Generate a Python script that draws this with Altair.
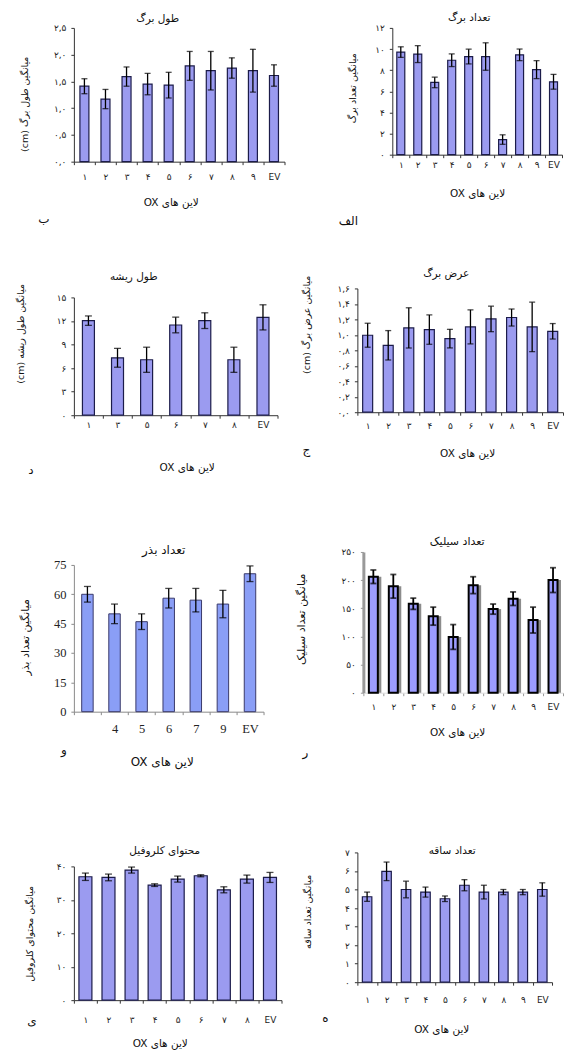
import altair as alt
import pandas as pd

FA = "DejaVu Sans"
SERIF = "Liberation Serif"
XTITLE = "OX لاین های"

# ---------------- data ----------------
p1_cats = ["۱", "۲", "۳", "۴", "۵", "۶", "۷", "۸", "۹", "EV"]
p1_vals = [1.41, 1.17, 1.59, 1.45, 1.43, 1.79, 1.70, 1.75, 1.70, 1.61]
p1_errs = [0.14, 0.18, 0.18, 0.20, 0.24, 0.27, 0.36, 0.19, 0.40, 0.20]
p1_yticks = [0, 0.5, 1, 1.5, 2, 2.5]
p1_ylabels = ["۰,۰", "۰,۵", "۱,۰", "۱,۵", "۲,۰", "۲,۵"]

p2_cats = ["۱", "۲", "۳", "۴", "۵", "۶", "۷", "۸", "۹", "EV"]
p2_vals = [9.71, 9.52, 6.84, 8.94, 9.29, 9.29, 1.43, 9.45, 8.05, 6.90]
p2_errs = [0.50, 0.80, 0.50, 0.60, 0.70, 1.30, 0.45, 0.55, 0.85, 0.70]
p2_yticks = [0, 2, 4, 6, 8, 10, 12]
p2_ylabels = ["۰", "۲", "۴", "۶", "۸", "۱۰", "۱۲"]

p3_cats = ["۱", "۳", "۵", "۶", "۷", "۸", "EV"]
p3_vals = [12.04, 7.31, 7.06, 11.49, 12.04, 7.06, 12.46]
p3_errs = [0.6, 1.2, 1.6, 1.0, 1.0, 1.6, 1.6]
p3_yticks = [0, 3, 6, 9, 12, 15]
p3_ylabels = ["۰", "۳", "۶", "۹", "۱۲", "۱۵"]

p4_cats = ["۱", "۲", "۳", "۴", "۵", "۶", "۷", "۸", "۹", "EV"]
p4_vals = [0.995, 0.865, 1.09, 1.068, 0.951, 1.103, 1.206, 1.224, 1.103, 1.046]
p4_errs = [0.155, 0.19, 0.26, 0.19, 0.12, 0.22, 0.165, 0.11, 0.32, 0.10]
p4_yticks = [0, 0.2, 0.4, 0.6, 0.8, 1.0, 1.2, 1.4, 1.6]
p4_ylabels = ["۰,۰", "۰,۲", "۰,۴", "۰,۶", "۰,۸", "۱,۰", "۱,۲", "۱,۴", "۱,۶"]

p5_cats = ["1", "4", "5", "6", "7", "9", "EV"]
p5_vals = [60, 50, 46, 58, 57, 55, 70.5]
p5_errs = [4, 5, 4, 5, 6, 7, 4]
p5_yticks = [0, 15, 30, 45, 60, 75]
p5_ylabels = ["0", "15", "30", "45", "60", "75"]

p6_cats = ["۱", "۲", "۳", "۴", "۵", "۶", "۷", "۸", "۹", "EV"]
p6_vals = [206, 189, 158, 136, 99, 191, 148.5, 167, 129, 200]
p6_errs = [12, 21, 10, 16, 22, 15, 9, 12, 23, 22]
p6_yticks = [0, 50, 100, 150, 200, 250]
p6_ylabels = ["۰", "۵۰", "۱۰۰", "۱۵۰", "۲۰۰", "۲۵۰"]

p7_cats = ["۱", "۲", "۳", "۴", "۵", "۶", "۷", "۸", "EV"]
p7_vals = [36.9, 36.7, 38.9, 34.4, 36.2, 37.2, 33.0, 36.2, 36.7]
p7_errs = [1.1, 1.0, 0.9, 0.4, 0.9, 0.3, 0.9, 1.2, 1.5]
p7_yticks = [0, 10, 20, 30, 40]
p7_ylabels = ["۰", "۱۰", "۲۰", "۳۰", "۴۰"]

p8_cats = ["۱", "۲", "۳", "۴", "۵", "۶", "۷", "۸", "۹", "EV"]
p8_vals = [4.61, 5.98, 5.00, 4.86, 4.50, 5.23, 4.86, 4.86, 4.86, 5.00]
p8_errs = [0.25, 0.50, 0.45, 0.27, 0.15, 0.30, 0.37, 0.14, 0.14, 0.36]
p8_yticks = [0, 1, 2, 3, 4, 5, 6, 7]
p8_ylabels = ["۰", "۱", "۲", "۳", "۴", "۵", "۶", "۷"]


def tern(ticks, labels):
    expr = "''"
    for t, l in reversed(list(zip(ticks, labels))):
        expr = f"datum.value == {t} ? '{l}' : ({expr})"
    return expr


ANCHOR = pd.DataFrame({"k": [0]})


def anchor(x, y, align, baseline):
    return alt.Chart(ANCHOR).mark_text(
        text=".", fontSize=1, opacity=0, align=align, baseline=baseline
    ).encode(x=alt.value(x), y=alt.value(y))


def label(text, x, y, font, size):
    return alt.Chart(ANCHOR).mark_text(
        text=text, font=font, fontSize=size, color="#111111",
        align="center", baseline="middle").encode(x=alt.value(x), y=alt.value(y))


CLASSIC = dict(fill="#9b9bf0", stroke="#1c1c4a", sw=1.2, axis="#333333",
               lfont=FA, lsize=9, tfont=FA, tsize=10.5, ysize=9.5, xtsize=10.5)
P5STYLE = dict(fill="#8a9ef6", stroke="#3a3a6a", sw=1.0, axis="#8a8a8a",
               lfont=SERIF, lsize=12.5, tfont=FA, tsize=12, ysize=11, xtsize=12)
P6STYLE = dict(fill="#9c9cff", stroke="#000000", sw=2.0, axis="#999999",
               lfont=FA, lsize=9, tfont=FA, tsize=11, ysize=11, xtsize=10.5)


def panel(c):
    cats, vals, errs = c["cats"], c["vals"], c["errs"]
    st = c["style"]
    df = pd.DataFrame({
        "cat": cats,
        "v": vals,
        "lo": [v - e for v, e in zip(vals, errs)],
        "hi": [v + e for v, e in zip(vals, errs)],
    })
    px, py, w, h = c["px"], c["py"], c["w"], c["h"]
    xlabel_expr = c.get("xlabelExpr", "datum.label")
    xax = alt.Axis(
        title=XTITLE, titleFont=st["tfont"], titleFontSize=st["xtsize"],
        titleFontWeight="normal", titleColor="#111111",
        titleX=c["xtx"] - px, titleY=c["xty"] - (py + h),
        titleAlign="center", titleBaseline="middle",
        labelAngle=0, labelFont=st["lfont"], labelFontSize=c.get("xlsize", st["lsize"]),
        labelColor="#222222", labelPadding=c["xlpad"], labelExpr=xlabel_expr,
        tickSize=3, tickBand="extent", tickColor=st["axis"],
        domainColor=c.get("xdom", st["axis"]), domainWidth=1,
    )
    yax = alt.Axis(
        title=c["ytitle"], titleFont=st["tfont"], titleFontSize=st["ysize"],
        titleFontWeight="normal", titleColor="#111111",
        titleX=c["ytx"] - px, titleY=c["yty"] - py, titleBaseline="middle",
        values=c["yticks"], labelExpr=tern(c["yticks"], c["ylabels"]),
        labelFont=st["lfont"], labelFontSize=st["lsize"], labelColor="#222222",
        labelPadding=5, tickSize=3, tickColor=st["axis"],
        domainColor=st["axis"], domainWidth=c.get("ydw", 1),
    )
    xs = alt.Scale(paddingInner=0, paddingOuter=0)
    ys = alt.Scale(domain=[c["yticks"][0], c["yticks"][-1]], nice=False)
    X = alt.X("cat:N", sort=cats, scale=xs, axis=xax)

    def Y(f):
        return alt.Y(f + ":Q", scale=ys, axis=yax)

    base = alt.Chart(df)
    layers = []
    if c.get("shadow"):
        layers.append(base.mark_bar(color="#8c8c8c", size=c["bw"], xOffset=3.5)
                      .encode(x=X, y=Y("v")))
    layers.append(base.mark_bar(size=c["bw"], fill=st["fill"], stroke=st["stroke"],
                                strokeWidth=st["sw"]).encode(x=X, y=Y("v")))
    ew = c.get("ew", 1.3)
    layers.append(base.mark_rule(color="black", strokeWidth=ew)
                  .encode(x=X, y=Y("lo"), y2="hi:Q"))
    layers.append(base.mark_tick(color="black", size=c["cap"], thickness=ew)
                  .encode(x=X, y=Y("lo")))
    layers.append(base.mark_tick(color="black", size=c["cap"], thickness=ew)
                  .encode(x=X, y=Y("hi")))
    # panel title and panel letter
    layers.append(label(c["title"], c["tcx"] - px, c["tcy"] - py, FA, st["tsize"]))
    layers.append(label(c["letter"], c["lx"] - px, c["ly"] - py, FA, 12))
    # invisible layout anchors: extents of the cell around the plot origin
    layers.append(anchor(-c["ext"][0], -c["ext"][1], "left", "top"))
    layers.append(anchor(c["ext"][2], c["ext"][3], "right", "bottom"))
    return alt.layer(*layers).properties(width=w, height=h)


# plot origins (page px)
LX = 74                      # all left-column plots share x
MID, RIGHT = 290, 564
PY = {1: 27, 2: 27, 3: 297, 4: 288, 5: 565, 6: 552, 7: 867, 8: 853}
PXR = {2: 393, 4: 358, 6: 364, 8: 358}
M = {1: 210, 2: 190, 3: 215}  # bottom extent of rows 1..3


def ext(i):
    r = (i + 1) // 2
    left_col = i % 2 == 1
    px = LX if left_col else PXR[i]
    if r == 1:
        top = PY[i] - 8
    else:
        top = PY[i] - PY[i - 2] - M[r - 1]
    bot = M[r] if r < 4 else 1052 - PY[i]
    lft = (LX - 8) if left_col else (px - MID)
    rgt = (MID - LX) if left_col else (RIGHT - px)
    return [lft, top, rgt, bot]


p1 = panel(dict(cats=p1_cats, vals=p1_vals, errs=p1_errs, yticks=p1_yticks, ylabels=p1_ylabels,
                title="طول برگ", ytitle="(cm) میانگین طول برگ", style=CLASSIC,
                px=LX, py=PY[1], w=211, h=134, bw=9, cap=6, ext=ext(1),
                ytx=25, yty=103, xlpad=8, xtx=171, xty=202, tcx=158, tcy=18,
                letter="ب", lx=44, ly=218))
p2 = panel(dict(cats=p2_cats, vals=p2_vals, errs=p2_errs, yticks=p2_yticks, ylabels=p2_ylabels,
                title="تعداد برگ", ytitle="میانگین تعداد برگ", style=CLASSIC,
                px=PXR[2], py=PY[2], w=170, h=127, bw=8, cap=6, ext=ext(2),
                ytx=353, yty=87, xlpad=3, xtx=478, xty=193, tcx=470, tcy=17,
                letter="الف", lx=349, ly=220))
p3 = panel(dict(cats=p3_cats, vals=p3_vals, errs=p3_errs, yticks=p3_yticks, ylabels=p3_ylabels,
                title="طول ریشه", ytitle="(cm) میانگین طول ریشه", style=CLASSIC,
                px=LX, py=PY[3], w=204, h=118, bw=12, cap=7, ext=ext(3),
                ytx=21, yty=333, xlpad=2, xtx=187, xty=467, tcx=134, tcy=277,
                letter="د", lx=31, ly=470))
p4 = panel(dict(cats=p4_cats, vals=p4_vals, errs=p4_errs, yticks=p4_yticks, ylabels=p4_ylabels,
                title="عرض برگ", ytitle="(cm) میانگین عرض برگ", style=CLASSIC,
                px=PXR[4], py=PY[4], w=206, h=124, bw=10, cap=6, ext=ext(4),
                ytx=307, yty=324, xlpad=6, xtx=468, xty=453, tcx=447, tcy=274,
                letter="ج", lx=307, ly=450))
p5 = panel(dict(cats=p5_cats, vals=p5_vals, errs=p5_errs, yticks=p5_yticks, ylabels=p5_ylabels,
                title="تعداد بذر", ytitle="میانگین تعداد بذر", style=P5STYLE,
                px=LX, py=PY[5], w=190, h=147, bw=11.5, cap=7, ext=ext(5),
                ytx=26, yty=637, xlpad=8, xtx=162, xty=762, tcx=164, tcy=550,
                xlabelExpr="datum.value == '1' ? '' : datum.label",
                letter="و", lx=64, ly=750))
p6 = panel(dict(cats=p6_cats, vals=p6_vals, errs=p6_errs, yticks=p6_yticks, ylabels=p6_ylabels,
                title="تعداد سیلیک", ytitle="میانگین تعداد سیلیک", style=P6STYLE,
                px=PXR[6], py=PY[6], w=200, h=141, bw=9, cap=6, shadow=True, ydw=3, ew=1.8,
                xdom="#dddddd", ext=ext(6),
                ytx=302, yty=619, xlpad=7, xtx=458, xty=733, tcx=458, tcy=542,
                letter="ر", lx=306, ly=752))
p7 = panel(dict(cats=p7_cats, vals=p7_vals, errs=p7_errs, yticks=p7_yticks, ylabels=p7_ylabels,
                title="محتوای کلروفیل", ytitle="میانگین محتوای کلروفیل", style=CLASSIC,
                px=LX, py=PY[7], w=208, h=134, bw=13, cap=7, ext=ext(7),
                ytx=30, yty=934, xlpad=12, xtx=160, xty=1044, tcx=165, tcy=852,
                letter="ی", lx=32, ly=1022))
p8 = panel(dict(cats=p8_cats, vals=p8_vals, errs=p8_errs, yticks=p8_yticks, ylabels=p8_ylabels,
                title="تعداد ساقه", ytitle="میانگین تعداد ساقه", style=CLASSIC,
                px=PXR[8], py=PY[8], w=195, h=130, bw=9.5, cap=6, ext=ext(8),
                ytx=308, yty=912, xlpad=10, xtx=442, xty=1030, tcx=453, tcy=852,
                letter="ه", lx=326, ly=1019))

chart = alt.concat(p1, p2, p3, p4, p5, p6, p7, p8, columns=2, spacing=0,
                   align="none", bounds="full").properties(
    padding=0, background="white"
).configure_view(stroke=None).configure_axis(grid=False, labelOverlap=False)

chart.save("out.html", embed_options={"renderer": "svg", "actions": False})
